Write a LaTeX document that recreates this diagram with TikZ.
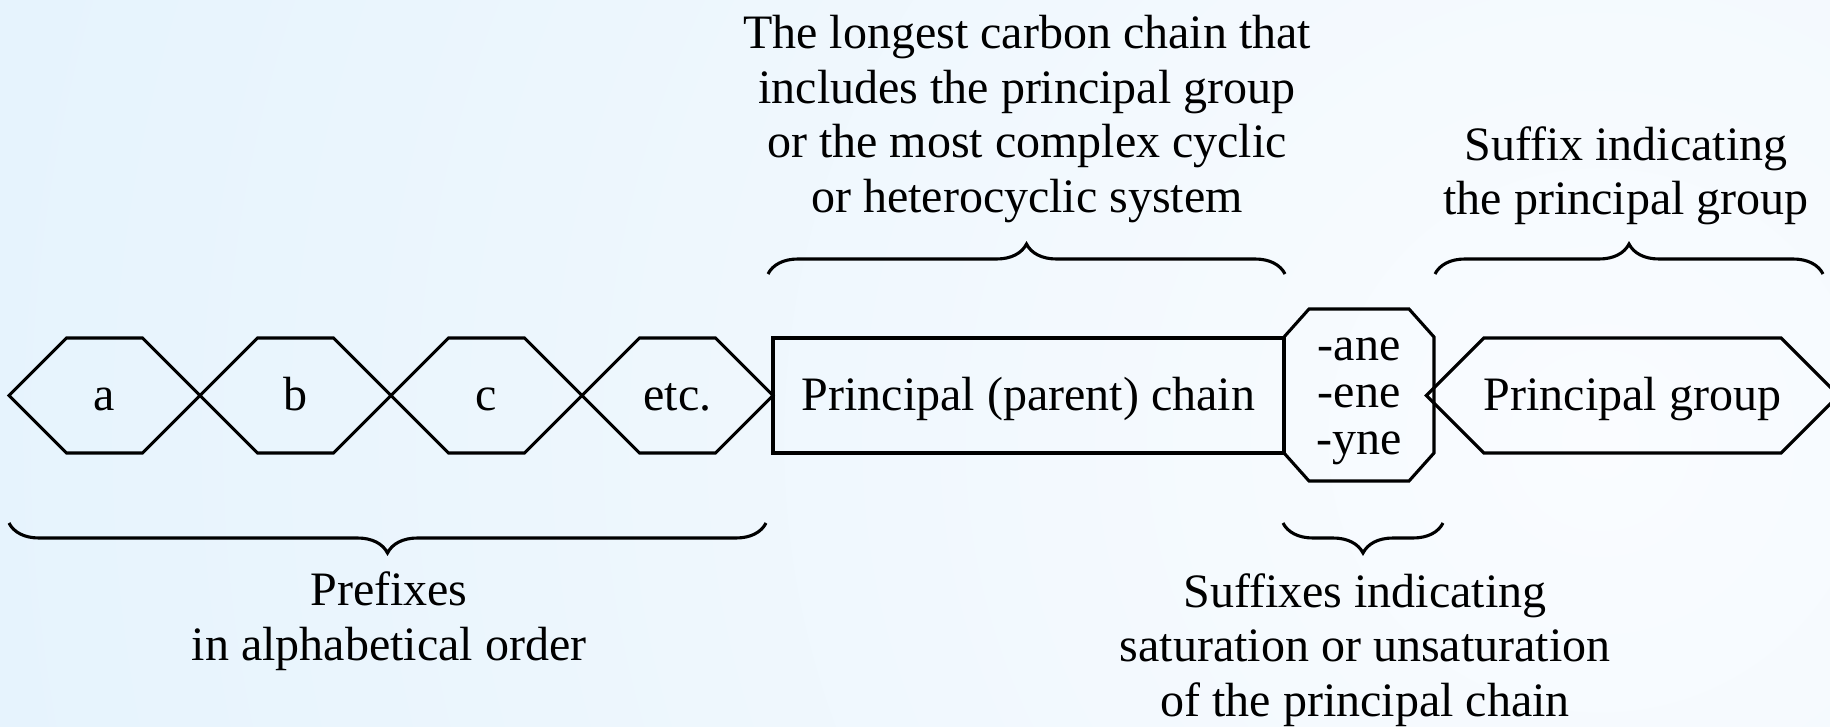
\documentclass[tikz,border=0pt]{standalone}
\usepackage{fontspec}
\setmainfont{Liberation Serif}
\usetikzlibrary{shapes.symbols,decorations.pathreplacing,calc}
\definecolor{bgin}{RGB}{250,252,255}
\definecolor{bgmid}{RGB}{236,246,253}
\definecolor{bgout}{RGB}{210,234,252}
\pgfdeclareradialshading{bgrad}{\pgfpointorigin}{color(0bp)=(bgin); color(16bp)=(bgmid); color(50bp)=(bgout)}
\begin{document}
\begin{tikzpicture}[x=1pt,y=-1pt,
  every node/.style={font=\fontsize{48}{54.5}\selectfont},
  lw/.style={line width=3.1pt},
  shpbase/.style={draw=black, lw, inner sep=0pt},
  shp/.style={shpbase, text height=36pt, text depth=7pt},
  hexa/.style={shp, signal, signal to=west and east, signal pointer angle=90, minimum width=191pt, minimum height=115pt},
  brc/.style={draw=black, lw, decorate, decoration={brace, amplitude=30pt}},
  lbl/.style={align=center, inner sep=0pt}
]
\useasboundingbox (0,0) rectangle (1830,727);
\begin{scope}
  \clip (0,0) rectangle (1830,727);
  \shade[shading=bgrad] (1600,440) circle[radius=1700];
\end{scope}

% prefix hexagons
\node[hexa] (a) at (104.5,395.5) {a};
\node[hexa] (b) at (295.5,395.5) {b};
\node[hexa] (c) at (486.5,395.5) {c};
\node[hexa] (etc) at (677.5,395.5) {etc.};
% parent chain
\node[shp, rectangle, minimum width=511pt, minimum height=115pt] (chain) at (1028.5,395.5) {Principal (parent) chain};
% saturation suffixes (octagon)
\coordinate (satc) at (1359,395);
\draw[lw, line join=miter] ($(satc)+(-75,-58)$) -- ($(satc)+(-50,-86)$) -- ($(satc)+(50,-86)$) -- ($(satc)+(75,-58)$)
  -- ($(satc)+(75,58)$) -- ($(satc)+(50,86)$) -- ($(satc)+(-50,86)$) -- ($(satc)+(-75,58)$) -- cycle;
\node[align=center, inner sep=0pt, font=\fontsize{48}{47}\selectfont] (sat) at ($(satc)+(0,6)$) {-ane\\-ene\\-yne};
% principal group
\node[shp, signal, signal to=west and east, signal pointer angle=90, minimum width=395pt, minimum height=115pt] (grp) at (1632.5,395.5) {Principal group};

% braces
\coordinate (t1a) at (768,274);
\coordinate (t1b) at (1285,274);
\coordinate (t2a) at (1435,274);
\coordinate (t2b) at (1823,274);
\coordinate (b1a) at (9,523);
\coordinate (b1b) at (766,523);
\coordinate (b2a) at (1283,523);
\coordinate (b2b) at (1443,523);
\draw[brc] (t1a) -- (t1b);
\draw[brc] (t2a) -- (t2b);
\draw[brc] (b1b) -- (b1a);
\draw[brc] (b2b) -- (b2a);

% labels
\node[lbl] (toplbl) at (1027,119) {The longest carbon chain that\\includes the principal group\\or the most complex cyclic\\or heterocyclic system};
\node[lbl] (sufgrp) at (1626,176) {Suffix indicating\\the principal group};
\node[lbl] (pref) at (389,621) {Prefixes\\in alphabetical order};
\node[lbl] (sufsat) at (1365,650) {Suffixes indicating\\saturation or unsaturation\\of the principal chain};
\end{tikzpicture}
\end{document}
